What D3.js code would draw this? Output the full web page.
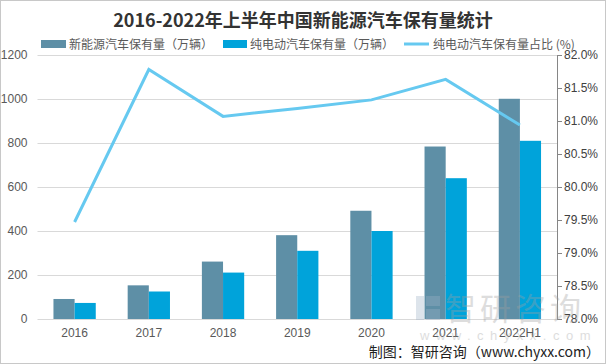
<!DOCTYPE html>
<html><head><meta charset="utf-8">
<script src="https://cdn.jsdelivr.net/npm/d3@7/dist/d3.min.js"></script>
<style>body{margin:0;background:#fff}svg{display:block}</style>
</head><body><svg id="c" width="606" height="364"></svg>
<script>
const categories = ["2016","2017","2018","2019","2020","2021","2022H1"];
const nevStock = [91,153,261,381,492,784,1001];
const bevStock = [73,125,211,310,400,640,810];
const bevShare = [79.47,81.78,81.07,81.19,81.32,81.63,80.94];
const leftTicks = [0,200,400,600,800,1000,1200];
const rightTicks = [78.0,78.5,79.0,79.5,80.0,80.5,81.0,81.5,82.0];
const seriesNames = ["新能源汽车保有量（万辆）","纯电动汽车保有量（万辆）","纯电动汽车保有量占比 (%)"];

const svg = d3.select("#c");
const W=606,H=364;
const L=37.5,R=557,T=55,B=319;
const font = "'Liberation Sans', Arial, sans-serif";
const cNev="#5e8fa6", cBev="#00a3da", cLine="#66c9f0";

svg.append("rect").attr("x",0.5).attr("y",0.5).attr("width",W-1).attr("height",H-1)
  .attr("fill","#fff").attr("stroke","#c8c8c8");

const x = d3.scaleBand().domain(categories).range([L,R]).paddingInner(0.43).paddingOuter(0.215);
const x1 = d3.scaleBand().domain([0,1]).range([0,x.bandwidth()]);
const y = d3.scaleLinear().domain([0,1200]).range([B,T]);
const y2 = d3.scaleLinear().domain([78,82]).range([B,T]);

// grid
svg.append("g").selectAll("line").data(leftTicks).join("line")
  .attr("x1",L).attr("x2",R).attr("y1",d=>Math.round(y(d))+0.5).attr("y2",d=>Math.round(y(d))+0.5)
  .attr("stroke","#d9d9d9").attr("stroke-width",1);

// left axis
const ga = svg.append("g").attr("transform",`translate(${L},0)`)
  .call(d3.axisLeft(y).tickValues(leftTicks).tickSize(0).tickPadding(10).tickFormat(d3.format("d")));
ga.select(".domain").remove();
ga.selectAll("text").attr("font-family",font).attr("font-size",12).attr("fill","#595959");

// right axis
const gr = svg.append("g").attr("transform",`translate(${R},0)`)
  .call(d3.axisRight(y2).tickValues(rightTicks).tickSize(5).tickPadding(2).tickFormat(d=>d.toFixed(1)+"%"));
gr.select(".domain").attr("stroke","#868686");
gr.selectAll(".tick line").attr("stroke","#868686");
gr.selectAll("text").attr("font-family",font).attr("font-size",12).attr("fill","#404040");

// bottom labels
const gx = svg.append("g").attr("transform",`translate(0,${B})`)
  .call(d3.axisBottom(x).tickSize(0).tickPadding(9));
gx.select(".domain").remove();
gx.selectAll("text").attr("font-family",font).attr("font-size",12).attr("fill","#595959");

// bars
const g = svg.append("g");
categories.forEach((c,i)=>{
  g.append("rect").attr("x",x(c)+x1(0)).attr("width",x1.bandwidth()).attr("y",y(nevStock[i])).attr("height",B-y(nevStock[i])).attr("fill",cNev);
  g.append("rect").attr("x",x(c)+x1(1)).attr("width",x1.bandwidth()).attr("y",y(bevStock[i])).attr("height",B-y(bevStock[i])).attr("fill",cBev);
});

// watermark
const wm = svg.append("g").attr("opacity",0.35);
wm.append("rect").attr("x",416).attr("y",296).attr("width",8).attr("height",24).attr("fill","#9fb3c8");
wm.append("rect").attr("x",426).attr("y",296).attr("width",14).attr("height",10).attr("fill","#9fb3c8");
wm.append("rect").attr("x",426).attr("y",309).attr("width",14).attr("height",11).attr("fill","#9fb3c8");
wm.append("text").attr("x",445).attr("y",320).attr("font-family","'Noto Sans CJK SC'").attr("font-size",31).attr("fill","#a0a0a0").attr("letter-spacing",4).text("智研咨询");
wm.append("text").attr("x",420).attr("y",340).attr("font-family",font).attr("font-size",13).attr("fill","#a0a0a0").attr("letter-spacing",6.5).text("www.chyxx.com");

// line
const line = d3.line().x((d,i)=>x(categories[i])+x.bandwidth()/2).y(d=>y2(d));
svg.append("path").datum(bevShare).attr("d",line).attr("fill","none").attr("stroke",cLine).attr("stroke-width",3).attr("stroke-linejoin","miter");

// title
svg.append("text").attr("x",303).attr("y",27).attr("text-anchor","middle")
  .attr("font-family","'Noto Sans CJK SC', sans-serif").attr("font-weight","bold").attr("font-size",18).attr("fill","#333")
  .text("2016-2022年上半年中国新能源汽车保有量统计");

// legend
const lg = svg.append("g").attr("font-family","'Noto Sans CJK SC', sans-serif").attr("font-size",12).attr("fill","#595959");
lg.append("rect").attr("x",41).attr("y",40).attr("width",25).attr("height",8).attr("fill",cNev);
lg.append("text").attr("x",69).attr("y",48.5).text(seriesNames[0]);
lg.append("rect").attr("x",223).attr("y",40).attr("width",24).attr("height",8).attr("fill",cBev);
lg.append("text").attr("x",250).attr("y",48.5).text(seriesNames[1]);
lg.append("line").attr("x1",404).attr("x2",429).attr("y1",44).attr("y2",44).attr("stroke",cLine).attr("stroke-width",3);
lg.append("text").attr("x",433).attr("y",48.5).text(seriesNames[2]);

// footer
svg.append("text").attr("x",600).attr("y",357).attr("text-anchor","end")
  .attr("font-family","'Noto Sans CJK SC', sans-serif").attr("font-size",14).attr("fill","#222")
  .text("制图：智研咨询（www.chyxx.com）");
</script></body></html>
